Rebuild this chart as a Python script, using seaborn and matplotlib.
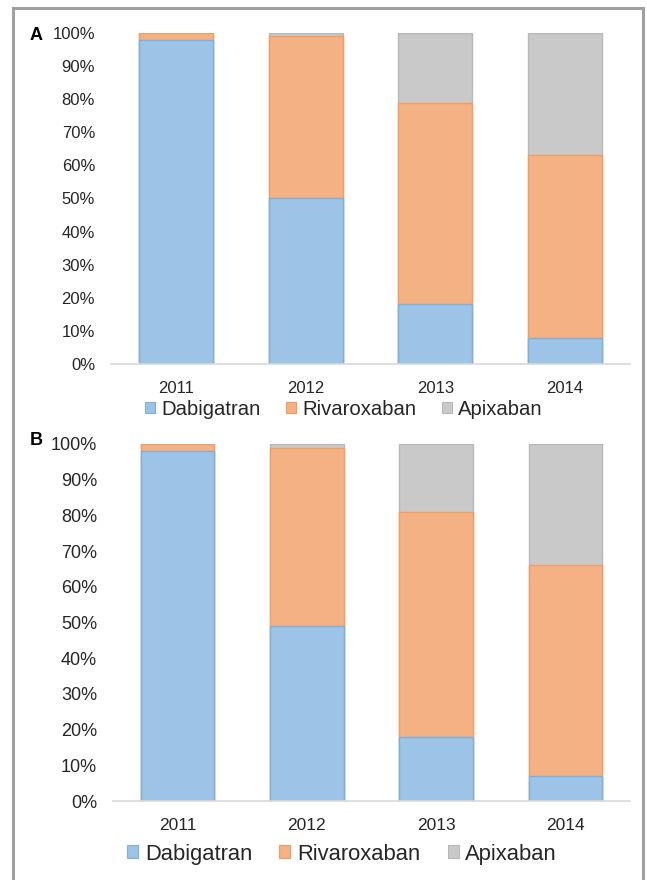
"""
Stacked share of DOAC prescriptions per year, panels A and B.
"""
import numpy as np
import pandas as pd
import seaborn as sns
import matplotlib.pyplot as plt
from matplotlib.patches import Patch, Rectangle

years = ['2011', '2012', '2013', '2014']
drugs = ['Dabigatran', 'Rivaroxaban', 'Apixaban']

# panel A (% of patients)
dabi_a = [98, 50, 18, 8]
riva_a = [2, 49, 61, 55]
apix_a = [0, 1, 21, 37]

# panel B
dabi_b = [98, 49, 18, 7]
riva_b = [2, 50, 63, 59]
apix_b = [0, 1, 19, 34]

fills = {'Dabigatran': '#9DC3E6', 'Rivaroxaban': '#F4B183', 'Apixaban': '#C9C9C9'}
edges = {'Dabigatran': '#7EB0DF', 'Rivaroxaban': '#F29D62', 'Apixaban': '#B8B8B8'}

sns.set_style('white')
plt.rcParams['font.family'] = ['Liberation Sans', 'DejaVu Sans']
TXT = '#262626'

W, H = 647, 880
fig = plt.figure(figsize=(W / 100, H / 100), dpi=100)


def px_axes(x0, x1, ytop, ybot):
    return fig.add_axes([x0 / W, 1 - ybot / H, (x1 - x0) / W, (ybot - ytop) / H])


def stacked(ax, dabi, riva, apix, tick_fs, year_fs):
    df = pd.DataFrame({'year': years,
                       'Dabigatran': np.array(dabi) / 100,
                       'Rivaroxaban': np.array(riva) / 100,
                       'Apixaban': np.array(apix) / 100})
    df['c2'] = df['Dabigatran'] + df['Rivaroxaban']
    df['c3'] = df['c2'] + df['Apixaban']
    # draw cumulative totals, largest first, so lower segments overlay
    for col, name in [('c3', 'Apixaban'), ('c2', 'Rivaroxaban'), ('Dabigatran', 'Dabigatran')]:
        sns.barplot(data=df, x='year', y=col, ax=ax, color=fills[name],
                    edgecolor=edges[name], linewidth=1.0, width=0.57,
                    saturation=1, errorbar=None)
    ax.set_ylim(0, 1)
    ax.set_xlim(-0.5, 3.5)
    ax.set_yticks(np.arange(0, 1.01, 0.1))
    ax.set_yticklabels([f'{int(round(v * 100))}%' for v in np.arange(0, 1.01, 0.1)],
                       fontsize=tick_fs, color=TXT)
    ax.set_xticks(range(4))
    ax.set_xticklabels(years, fontsize=year_fs, color=TXT)
    ax.tick_params(axis='both', length=0)
    ax.tick_params(axis='y', pad=11.5)
    ax.tick_params(axis='x', pad=12)
    ax.set_xlabel('')
    ax.set_ylabel('')
    for s in ['top', 'right', 'left']:
        ax.spines[s].set_visible(False)
    ax.spines['bottom'].set_color('#D9D9D9')
    ax.spines['bottom'].set_linewidth(1.2)
    ax.patch.set_alpha(0)


def legend(x_px, y_px, fs):
    handles = [Patch(facecolor=fills[d], edgecolor=edges[d], linewidth=0.8) for d in drugs]
    fig.legend(handles, drugs, loc='center', bbox_to_anchor=(x_px / W, 1 - y_px / H),
               ncol=3, frameon=False, fontsize=fs, handlelength=0.5, handleheight=0.5,
               handletextpad=0.3, columnspacing=1.25, labelcolor=TXT,
               borderpad=0, borderaxespad=0)


ax_a = px_axes(111, 630, 33, 364)
stacked(ax_a, dabi_a, riva_a, apix_a, 12, 12)
legend(344, 409, 14.6)

ax_b = px_axes(113, 630, 444, 801)
stacked(ax_b, dabi_b, riva_b, apix_b, 13, 12.5)
legend(342, 854, 15.8)

fig.text(30 / W, 1 - 35 / H, 'A', fontsize=13, fontweight='bold', va='center', color='black')
fig.text(30 / W, 1 - 440 / H, 'B', fontsize=13, fontweight='bold', va='center', color='black')

# grey frame around the whole figure (runs off the bottom edge)
fig.patches.append(Rectangle((13 / W, -0.05), (643 - 13) / W, 1.05 - 8 / H,
                             transform=fig.transFigure, fill=False,
                             edgecolor='#A0A0A0', linewidth=2.2))

plt.savefig('out.png', dpi=100)
